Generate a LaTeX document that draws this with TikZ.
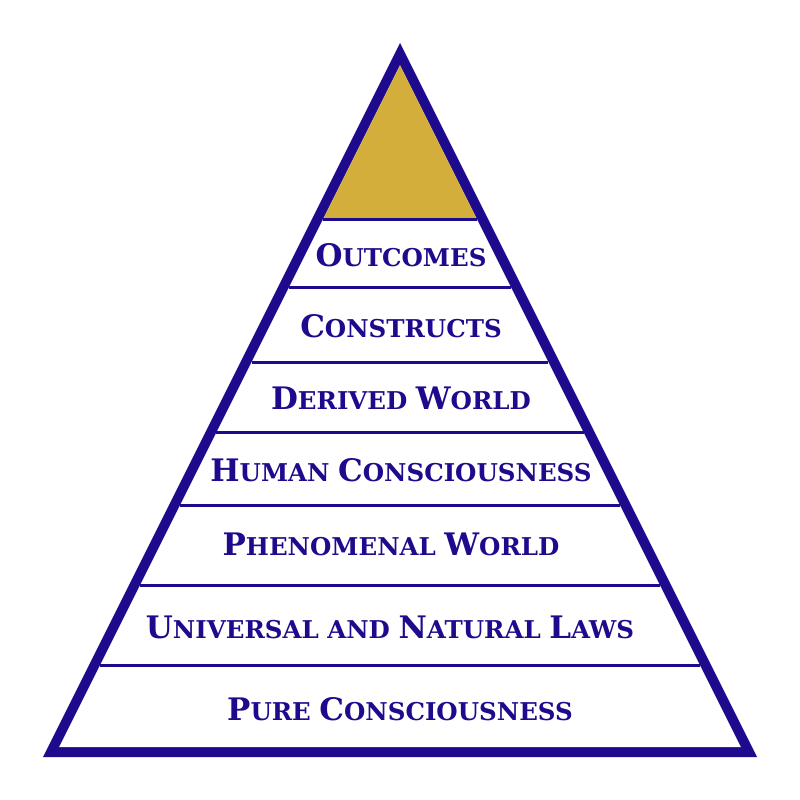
\documentclass[tikz,border=0pt]{standalone}
\usepackage{fontspec}
\setmainfont{DejaVu Serif}
\usepackage{tikz}
\usetikzlibrary{positioning}

\definecolor{pyrblue}{RGB}{30,10,140}
\definecolor{pyrgold}{RGB}{212,174,58}

\newcommand{\tiercap}[1]{{\fontsize{31}{31}\selectfont #1}}

\tikzset{
  tierline/.style={pyrblue, line width=3pt},
  tierlabel/.style={inner sep=0pt, text=pyrblue, font=\bfseries\fontsize{24.5}{24.5}\selectfont}
}

\begin{document}
\begin{tikzpicture}[x=1pt, y=-1pt]
\useasboundingbox (0,0) rectangle (800,800);
\fill[white] (0,0) rectangle (800,800);
% pyramid outline and inside
\fill[pyrblue] (400,43)--(43,757)--(757,757)--cycle;
\fill[white] (400,65.4)--(59.2,747)--(740.8,747)--cycle;
\fill[pyrgold] (400,65.4)--(323.7,218)--(476.3,218)--cycle;
% tiers
\draw[tierline] (323.2,219)--(476.8,219);
\draw[tierline] (289.2,287)--(510.8,287);
\draw[tierline] (251.7,362)--(548.3,362);
\draw[tierline] (216.4,432.5)--(583.6,432.5);
\draw[tierline] (180.2,505)--(619.8,505);
\draw[tierline] (140.2,585)--(659.8,585);
\draw[tierline] (100,665.5)--(700,665.5);
% labels
\node[tierlabel] (outcomes) at (401,255.5) {\tiercap{O}UTCOMES};
\node[tierlabel] (constructs) at (401,326.5) {\tiercap{C}ONSTRUCTS};
\node[tierlabel] (derived) at (401,398) {\tiercap{D}ERIVED \tiercap{W}ORLD};
\node[tierlabel] (human) at (401,470) {\tiercap{H}UMAN \tiercap{C}ONSCIOUSNESS};
\node[tierlabel] (phenomenal) at (391,544.5) {\tiercap{P}HENOMENAL \tiercap{W}ORLD};
\node[tierlabel] (laws) at (390,627) {\tiercap{U}NIVERSAL AND \tiercap{N}ATURAL \tiercap{L}AWS};
\node[tierlabel] (pure) at (400,709) {\tiercap{P}URE \tiercap{C}ONSCIOUSNESS};
\end{tikzpicture}
\end{document}
